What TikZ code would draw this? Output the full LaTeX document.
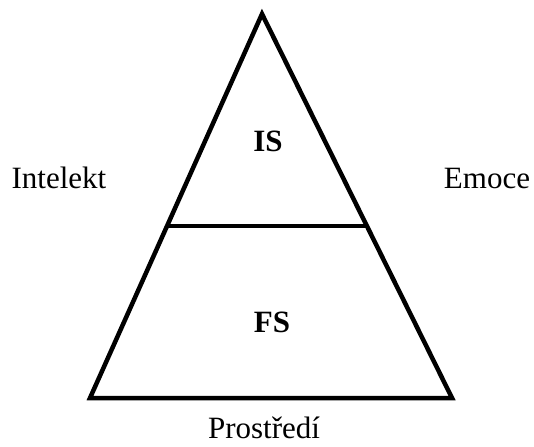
\documentclass[tikz,border=0pt]{standalone}
\usepackage{fontspec}
\setmainfont{Liberation Serif}
\usetikzlibrary{calc}
\begin{document}
\begin{tikzpicture}[x=1pt, y=-1pt,
   every node/.style={font=\fontsize{31}{36}\selectfont, anchor=base, inner sep=0pt},
   stage/.style={font=\fontsize{31}{36}\selectfont\bfseries},
   side/.style={line width=4.5pt, line join=miter}]
\useasboundingbox (0,0) rectangle (534,446);

\coordinate (top) at (262,14);
\coordinate (bl) at (90,398);
\coordinate (br) at (452,398);
\coordinate (ml) at ($(top)!0.552!(bl)$);
\coordinate (mr) at ($(top)!0.552!(br)$);

\draw[side] (top) -- (br) -- (bl) -- cycle;
\draw[side, line width=4pt] (ml) -- (mr);

\node[stage] (is) at (268,152) {IS};
\node[stage] (fs) at (272,332) {FS};
\node (intelekt) at (59,188) {Intelekt};
\node (emoce) at (487,188) {Emoce};
\node (prostredi) at (264,438) {Prostředí};

\end{tikzpicture}
\end{document}
